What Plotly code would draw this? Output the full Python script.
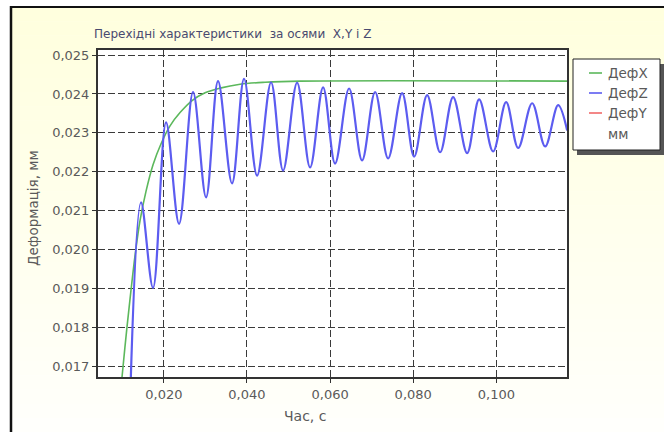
import plotly.graph_objects as go

# ---------------- data ----------------
title_text = "Перехідні характеристики  за осями  X,Y і Z"
x_title = "Час, с"
y_title = "Деформація, мм"
series_names = ["ДефX", "ДефZ", "ДефY"]
unit_label = "мм"

x_ticks = [0.020, 0.040, 0.060, 0.080, 0.100]
y_ticks = [0.017, 0.018, 0.019, 0.020, 0.021, 0.022, 0.023, 0.024, 0.025]

# ДефX (green) – aperiodic rise
t_x = [0.00966, 0.00994, 0.01114, 0.01211, 0.01307, 0.01427, 0.01572, 0.01740,
       0.01933, 0.02149, 0.02390, 0.02679, 0.02992, 0.03353, 0.03834, 0.04436,
       0.05278, 0.11704]
v_x = [0.01640, 0.01672, 0.01801, 0.01896, 0.01984, 0.02074, 0.02150, 0.02218,
       0.02272, 0.02318, 0.02352, 0.02383, 0.02403, 0.02415, 0.02425, 0.02430,
       0.02433, 0.02433]

# ДефZ (blue) – oscillating response (peaks / troughs)
t_z = [0.01200, 0.01451, 0.01740, 0.02053, 0.02366, 0.02703, 0.03016, 0.03304,
       0.03641, 0.03930, 0.04243, 0.04580, 0.04869, 0.05206, 0.05519, 0.05832,
       0.06120, 0.06457, 0.06770, 0.07083, 0.07396, 0.07733, 0.08022, 0.08335,
       0.08647, 0.08960, 0.09297, 0.09586, 0.09923, 0.10236, 0.10525, 0.10862,
       0.11174, 0.11487, 0.11704]
v_z = [0.01650, 0.02121, 0.01901, 0.02327, 0.02066, 0.02405, 0.02134, 0.02433,
       0.02170, 0.02439, 0.02190, 0.02430, 0.02203, 0.02429, 0.02211, 0.02417,
       0.02221, 0.02414, 0.02229, 0.02405, 0.02234, 0.02402, 0.02239, 0.02397,
       0.02250, 0.02392, 0.02248, 0.02386, 0.02252, 0.02379, 0.02261, 0.02376,
       0.02265, 0.02371, 0.02306]

x_range = [0.00416, 0.1170]
y_range = [0.01672, 0.02513]

# ---------------- styling ----------------
W, H = 664, 432
L, R, T, B = 98, 97, 50, 55
PW, PH = W - L - R, H - T - B
GREEN = "#5cb85c"
BLUE = "#5c5cf0"
RED = "#f06a6a"
FONT = "DejaVu Sans"
TXT = "#5a5a5a"


def px(x):
    return (x - L) / PW


def py(y):
    return (H - B - y) / PH


fig = go.Figure()
fig.add_trace(go.Scatter(x=t_x, y=v_x, mode="lines", name=series_names[0],
                         line=dict(color=GREEN, width=1.6, shape="spline"),
                         showlegend=False))
fig.add_trace(go.Scatter(x=t_z, y=v_z, mode="lines", name=series_names[1],
                         line=dict(color=BLUE, width=2.2, shape="spline"),
                         showlegend=False))

shapes = []
# background gradient (pale yellow -> white)
n = 30
y0, y1 = 7, H
for i in range(n):
    a = y0 + (y1 - y0) * i / n
    b = y0 + (y1 - y0) * (i + 1) / n + 0.5
    f = i / (n - 1)
    r, g, bl = 255, 255, int(222 + (252 - 222) * f)
    shapes.append(dict(type="rect", xref="paper", yref="paper", layer="below",
                       x0=px(11), x1=px(W + 5), y0=py(b), y1=py(a),
                       fillcolor=f"rgb({r},{g},{bl})", line=dict(width=0)))
# plot area white
shapes.append(dict(type="rect", xref="paper", yref="paper", layer="below",
                   x0=0, x1=1, y0=0, y1=1, fillcolor="white", line=dict(width=0)))
# outer frame lines
shapes.append(dict(type="line", xref="paper", yref="paper", layer="above",
                   x0=px(11), x1=px(11), y0=py(6), y1=py(H + 5),
                   line=dict(color="#111", width=2.5)))
shapes.append(dict(type="line", xref="paper", yref="paper", layer="above",
                   x0=px(10), x1=px(W + 5), y0=py(7), y1=py(7),
                   line=dict(color="#111", width=2)))
# legend shadow + box
shapes.append(dict(type="rect", xref="paper", yref="paper", layer="above",
                   x0=px(577), x1=px(W + 5), y0=py(155), y1=py(64),
                   fillcolor="#555", line=dict(width=0)))
shapes.append(dict(type="rect", xref="paper", yref="paper", layer="above",
                   x0=px(573), x1=px(660), y0=py(150), y1=py(59),
                   fillcolor="white", line=dict(color="#222", width=1)))
leg_y = [73, 93, 113, 134]
for c, yy in zip([GREEN, BLUE, RED], leg_y[:3]):
    shapes.append(dict(type="line", xref="paper", yref="paper", layer="above",
                       x0=px(589), x1=px(602), y0=py(yy), y1=py(yy),
                       line=dict(color=c, width=1.6)))

annotations = []
for name, yy in zip(series_names + [unit_label], leg_y):
    annotations.append(dict(text=name, xref="paper", yref="paper",
                            x=px(606), y=py(yy), xanchor="left", yanchor="middle",
                            showarrow=False, font=dict(family=FONT, size=13.5, color=TXT)))
annotations.append(dict(text=title_text, xref="paper", yref="paper",
                        x=px(232), y=py(34), xanchor="center", yanchor="middle",
                        showarrow=False, font=dict(family=FONT, size=12, color="#4a4a70")))
annotations.append(dict(text=y_title, xref="paper", yref="paper", textangle=-90,
                        x=px(33), y=py(208), xanchor="center", yanchor="middle",
                        showarrow=False, font=dict(family=FONT, size=13.5, color=TXT)))
annotations.append(dict(text=x_title, xref="paper", yref="paper",
                        x=px(305), y=py(416), xanchor="center", yanchor="middle",
                        showarrow=False, font=dict(family=FONT, size=14, color=TXT)))

axis_common = dict(showline=True, mirror=True, linecolor="#333", linewidth=2,
                   ticks="outside", ticklen=4, tickcolor="#333",
                   showgrid=True, gridcolor="#3a3a3a", gridwidth=1, griddash="7px,3px",
                   zeroline=False, tickformat=".3f",
                   tickfont=dict(family=FONT, size=13, color=TXT))

fig.update_layout(
    width=W, height=H,
    margin=dict(l=L, r=R, t=T, b=B),
    paper_bgcolor="white", plot_bgcolor="white",
    separators=", ",
    showlegend=False,
    xaxis=dict(range=x_range, tickvals=x_ticks, **axis_common),
    yaxis=dict(range=y_range, tickvals=y_ticks, **axis_common),
    shapes=shapes, annotations=annotations,
)

fig.write_html(
    "out.html",
    config={"displayModeBar": False},
    post_script="document.body.style.margin='0';document.body.style.overflow='hidden';",
)
